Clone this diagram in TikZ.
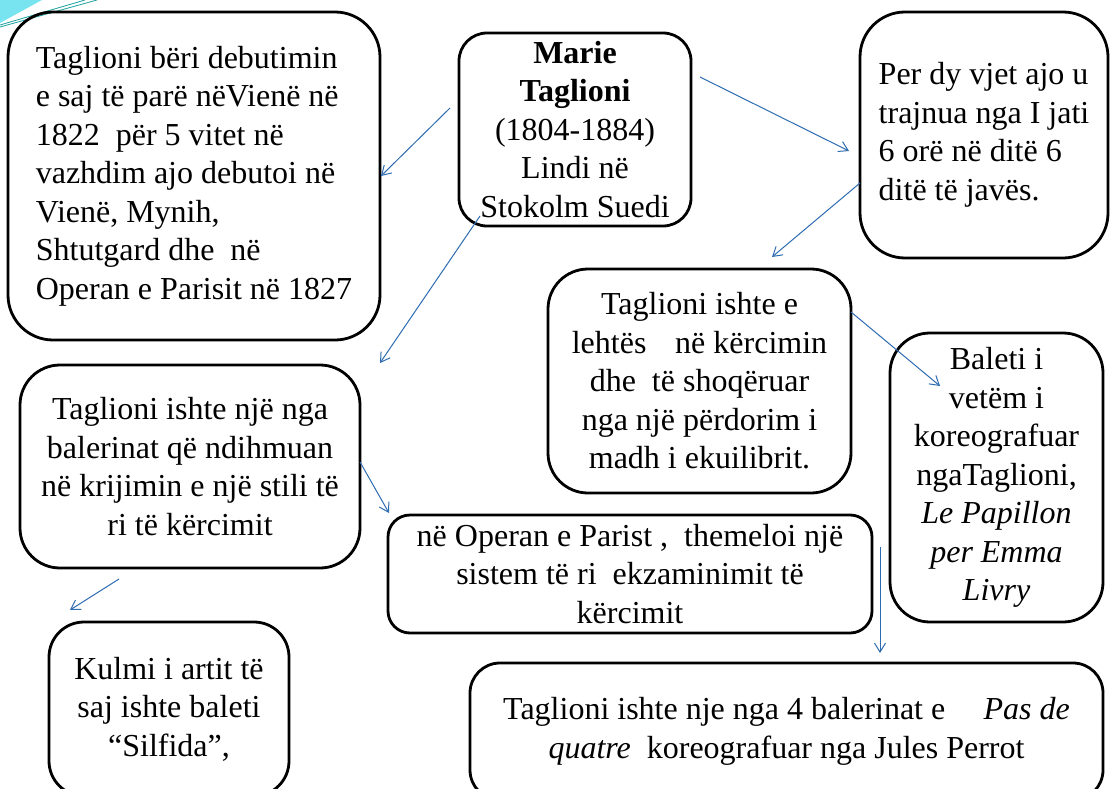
\documentclass[tikz,border=0pt]{standalone}
\usepackage{fontspec}
\setmainfont{Liberation Serif}
\usetikzlibrary{arrows.meta}
\definecolor{arrowblue}{RGB}{46,108,178}
\definecolor{cornercyan}{RGB}{120,228,240}
\definecolor{cornerteal}{RGB}{30,160,160}
\begin{document}
\begin{tikzpicture}[x=1pt,y=-1pt,
  box/.style={draw=black, line width=2.8pt, inner sep=2pt, font=\fontsize{32}{38.5}\selectfont},
  link/.style={draw=arrowblue, line width=1pt, -{Straight Barb[length=9pt,width=11pt]}}]
\useasboundingbox (0,0) rectangle (1110,789);
\fill[white] (0,0) rectangle (1110,789);
\clip (0,0) rectangle (1110,789);
% corner decoration
\fill[cornercyan] (0,0) -- (42,0) -- (0,23) -- cycle;
\draw[cornerteal, line width=0.8pt] (0,25) -- (85,0);
\draw[cornerteal, line width=0.8pt] (0,27) -- (97,0);
% boxes
\node[box, rounded corners=45pt, minimum width=372pt, minimum height=328pt, align=left] (A) at (194,176)
 {Taglioni bëri debutimin\\e saj të parë nëVienë në\\1822\ \ për 5 vitet në\\vazhdim ajo debutoi në\\Vienë, Mynih,\\Shtutgard dhe\ \ në\\Operan e Parisit në 1827};
\node[box, rounded corners=28pt, minimum width=232pt, minimum height=193pt, align=center] (B) at (575,129.5)
 {\textbf{Marie}\\\textbf{Taglioni}\\(1804-1884)\\Lindi në\\Stokolm Suedi};
\node[box, rounded corners=45pt, minimum width=248pt, minimum height=246pt, align=left] (C) at (984,135)
 {Per dy vjet ajo u\\trajnua nga I jati\\6 orë në ditë 6\\ditë të javës.};
\node[box, rounded corners=40pt, minimum width=303pt, minimum height=224pt, align=center] (D) at (699.5,381)
 {Taglioni ishte e\\lehtës\hspace{0.9em}në kërcimin\\dhe\ \ të shoqëruar\\nga një përdorim i\\madh i ekuilibrit.};
\node[box, rounded corners=40pt, minimum width=213pt, minimum height=289pt, align=center] (E) at (996.5,477.5)
 {Baleti i\\vetëm i\\koreografuar\\ngaTaglioni,\\\textit{Le Papillon}\\\textit{per Emma}\\\textit{Livry}};
\node[box, rounded corners=40pt, minimum width=340pt, minimum height=203pt, align=center] (I) at (190,466.5)
 {Taglioni ishte një nga\\balerinat që ndihmuan\\në krijimin e një stili të\\ri të kërcimit};
\node[box, rounded corners=22pt, minimum width=484pt, minimum height=118pt, align=center] (F) at (630,574)
 {në Operan e Parist ,\ \ themeloi një\\sistem të ri\ \ ekzaminimit të\\kërcimit};
\node[box, rounded corners=30pt, minimum width=633pt, minimum height=137pt, align=center] (G) at (786.5,731.5)
 {Taglioni ishte nje nga 4 balerinat e\hspace{1.2em}\textit{Pas de}\\\textit{quatre}\ \ koreografuar nga Jules Perrot};
\node[box, rounded corners=35pt, minimum width=240pt, minimum height=174pt, align=center] (H) at (169,709)
 {Kulmi i artit të\\saj ishte baleti\\“Silfida”,};
% connector end points
\coordinate (b1) at (450,108);  \coordinate (a1) at (381,176);
\coordinate (b2) at (700,77);   \coordinate (c2) at (849,151);
\coordinate (c3) at (860,183);  \coordinate (d3) at (772,257);
\coordinate (b4) at (480,216);  \coordinate (i4) at (380,363);
\coordinate (i5) at (360,462);  \coordinate (f5) at (389,513);
\coordinate (d6) at (851,312);  \coordinate (e6) at (940,386);
\coordinate (f7) at (880,547);  \coordinate (g7) at (880,653);
\coordinate (i8) at (119,579);  \coordinate (h8) at (70,610);
% connectors
\draw[link] (b1) -- (a1);
\draw[link] (b2) -- (c2);
\draw[link] (c3) -- (d3);
\draw[link] (b4) -- (i4);
\draw[link] (i5) -- (f5);
\draw[link] (d6) -- (e6);
\draw[link] (f7) -- (g7);
\draw[link] (i8) -- (h8);
\end{tikzpicture}
\end{document}
